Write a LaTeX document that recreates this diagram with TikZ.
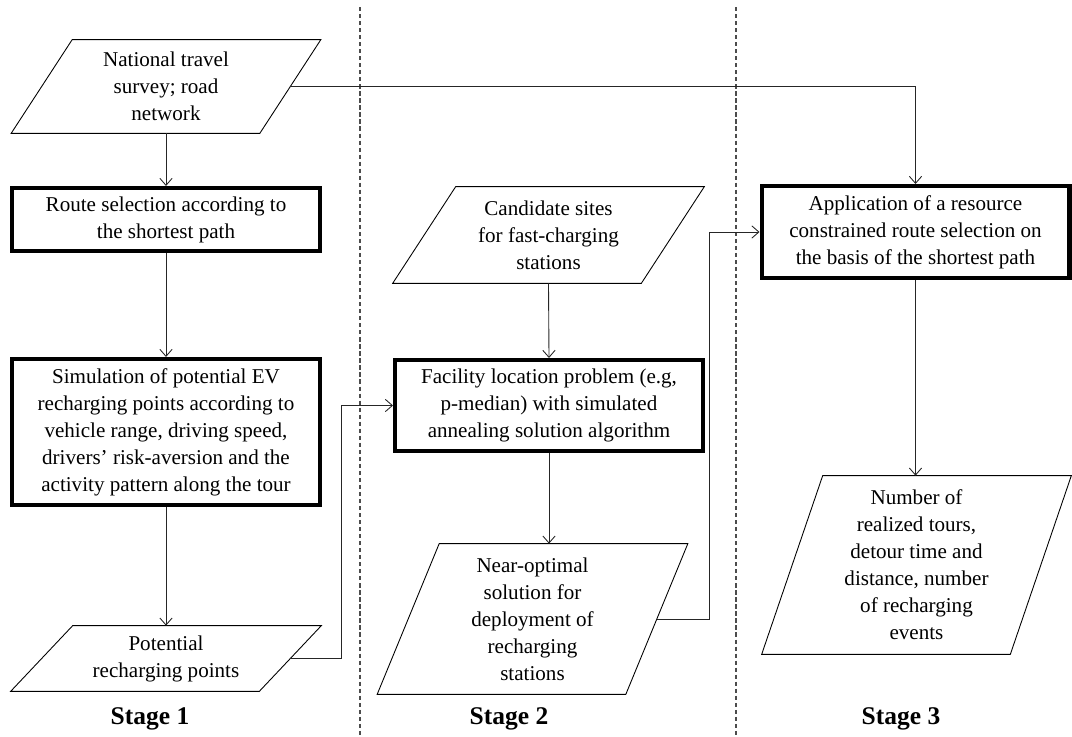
\documentclass[tikz,border=0pt]{standalone}
\usepackage{fontspec}
\setmainfont{Liberation Serif}
\usetikzlibrary{positioning}
\usetikzlibrary{calc}
\usetikzlibrary{arrows.meta}

\tikzset{
  procbox/.style={draw, line width=2.3pt, align=center, inner sep=0pt,
    minimum width=6.16cm, font=\fontsize{12}{15.4}\selectfont},
  databox/.style={align=center, inner sep=0pt, minimum width=4.96cm,
    font=\fontsize{12}{15.4}\selectfont},
  arr/.style={-{Straight Barb[length=4pt,width=7pt]}, line width=0.5pt, draw=black!85},
  sepline/.style={draw=black!70, line width=0.6pt, dash pattern=on 2.4pt off 1.6pt},
  stagelabel/.style={font=\fontsize{14.5}{16}\selectfont\bfseries},
}

% parallelogram round a data node, #2 = half of the slant
\newcommand{\slantframe}[2]{%
  \draw[line width=0.5pt] ($(#1.north west)+(#2,0)$) -- ($(#1.north east)+(#2,0)$)
    -- ($(#1.south east)-(#2,0)$) -- ($(#1.south west)-(#2,0)$) -- cycle;}

\begin{document}
\begin{tikzpicture}[x=0.02cm, y=-0.02cm]

\pgfmathsetmacro{\COLA}{166}
\pgfmathsetmacro{\COLB}{549}
\pgfmathsetmacro{\COLC}{915.5}

\useasboundingbox (0,0) rectangle (1072,737);

% stage separators
\draw [sepline] (360,7) -- (360,737);
\draw [sepline] (736,7) -- (736,737);

% stage 1
\node [databox, minimum height=1.86cm] (survey) at (\COLA, 86.5)
  {National travel\\survey; road\\network};
\slantframe{survey}{30.5}

\node [procbox, minimum height=1.26cm] (route) at (\COLA, 219.5)
  {Route selection according to\\the shortest path};

\node [procbox, minimum height=2.92cm] (simul) at (\COLA, 432)
  {Simulation of potential EV\\recharging points according to\\vehicle range, driving speed,\\drivers' risk-aversion and the\\activity pattern along the tour};

\node [databox, minimum height=1.30cm] (points) at (\COLA, 658.5)
  {Potential\\recharging points};
\slantframe{points}{31}

% stage 2
\node [databox, minimum height=1.92cm] (sites) at (548.5, 235)
  {Candidate sites\\for fast-charging\\stations};
\slantframe{sites}{31.5}

\node [procbox, minimum height=1.82cm] (facility) at (\COLB, 405.5)
  {Facility location problem (e.g,\\p-median) with simulated\\annealing solution algorithm};

\node [databox, minimum height=3.0cm] (nearopt) at (532.5, 619)
  {Near-optimal\\solution for\\deployment of\\recharging\\stations};
\slantframe{nearopt}{31}

% stage 3
\node [procbox, minimum height=1.84cm] (constr) at (\COLC, 232)
  {Application of a resource\\constrained route selection on\\the basis of the shortest path};

\node [databox, minimum height=3.56cm] (tours) at (916.5, 565)
  {Number of\\realized tours,\\detour time and\\distance, number\\of recharging\\events};
\slantframe{tours}{30.5}

\node [stagelabel] (st1) at (150, 719) {Stage 1};
\node [stagelabel] (st2) at (509, 719) {Stage 2};
\node [stagelabel] (st3) at (901, 719) {Stage 3};

\draw [arr] (survey.south) -- (route.north);
\draw [arr] (route.south) -- (simul.north);
\draw [arr] (simul.south) -- (points.north);
\draw [arr] (survey.east) -| (constr.north);
\draw [arr] (points.east) -- ++(51,0) |- (facility.west);
\draw [arr] (sites.south) -- (facility.north);
\draw [arr] (facility.south) -- (facility.south |- nearopt.north);
\draw [arr] (nearopt.east) -- ++(52.5,0) |- (constr.west);
\draw [arr] (constr.south) -- (constr.south |- tours.north);

\end{tikzpicture}
\end{document}
